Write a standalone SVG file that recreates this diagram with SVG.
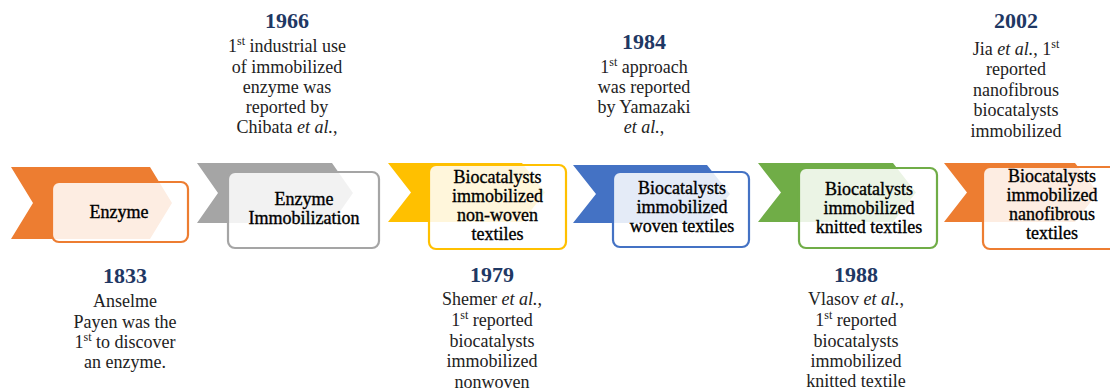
<svg xmlns="http://www.w3.org/2000/svg" width="1110" height="388" viewBox="0 0 1110 388">
<style>
  text { font-family: "Liberation Serif", "Times New Roman", serif; text-anchor: middle; }
  .yr { font-size: 22px; font-weight: bold; fill: #1F3864; }
  .an { font-size: 18px; fill: #222222; }
  .bx { font-size: 18px; fill: #000000; stroke: #000000; stroke-width: 0.35px; }
  .box { fill: #ffffff; fill-opacity: 0.86; stroke-width: 2.2; }
  .sup { font-size: 12px; }
  .it { font-style: italic; }
</style>
<rect width="1110" height="388" fill="#ffffff"/>

<g id="node-enzyme">
  <polygon points="11,167 150,167 172,203 150,239 11,239 33,203" fill="#ED7D31"/>
  <rect class="box" x="52" y="182" width="136" height="60" rx="7" stroke="#ED7D31"/>
  <text class="bx" x="119" y="218">Enzyme</text>
</g>

<g id="node-immobilization">
  <polygon points="197,163 332,163 353,193 332,223 197,223 218,193" fill="#A5A5A5"/>
  <rect class="box" x="228" y="172" width="151" height="76" rx="7" stroke="#A5A5A5"/>
  <text class="bx" x="304" y="205">Enzyme</text>
  <text class="bx" x="304" y="224">Immobilization</text>
</g>

<g id="node-nonwoven">
  <polygon points="388,163 522,163 545,192.5 522,222 388,222 411,192.5" fill="#FFC000"/>
  <rect class="box" x="429" y="165" width="137" height="84" rx="7" stroke="#FFC000"/>
  <text class="bx" x="497.5" y="183">Biocatalysts</text>
  <text class="bx" x="497.5" y="202">immobilized</text>
  <text class="bx" x="497.5" y="221">non-woven</text>
  <text class="bx" x="497.5" y="240">textiles</text>
</g>

<g id="node-woven">
  <polygon points="573,165 707,165 730,194 707,223 573,223 596,194" fill="#4472C4"/>
  <rect class="box" x="613" y="172" width="136" height="75" rx="7" stroke="#4472C4"/>
  <text class="bx" x="682" y="194">Biocatalysts</text>
  <text class="bx" x="682" y="213">immobilized</text>
  <text class="bx" x="682" y="232">woven textiles</text>
</g>

<g id="node-knitted">
  <polygon points="758,163 893,163 916,192.5 893,222 758,222 781,192.5" fill="#70AD47"/>
  <rect class="box" x="799" y="168" width="138" height="80" rx="7" stroke="#70AD47"/>
  <text class="bx" x="869" y="195">Biocatalysts</text>
  <text class="bx" x="869" y="214">immobilized</text>
  <text class="bx" x="869" y="233">knitted textiles</text>
</g>

<g id="node-nanofibrous">
  <polygon points="944,163 1075,163 1098,192.5 1075,222 944,222 967,192.5" fill="#ED7D31"/>
  <rect class="box" x="983" y="167" width="140" height="82" rx="7" stroke="#ED7D31"/>
  <text class="bx" x="1052" y="182">Biocatalysts</text>
  <text class="bx" x="1052" y="201">immobilized</text>
  <text class="bx" x="1052" y="220">nanofibrous</text>
  <text class="bx" x="1052" y="239">textiles</text>
</g>

<g id="note-1833">
  <text class="yr" x="125" y="283">1833</text>
  <text class="an" x="125" y="307">Anselme</text>
  <text class="an" x="125" y="328">Payen was the</text>
  <text class="an" x="125" y="348">1<tspan class="sup" dy="-7">st</tspan><tspan dy="7"> to discover</tspan></text>
  <text class="an" x="125" y="368">an enzyme.</text>
</g>

<g id="note-1966">
  <text class="yr" x="287" y="28">1966</text>
  <text class="an" x="287" y="52">1<tspan class="sup" dy="-7">st</tspan><tspan dy="7"> industrial use</tspan></text>
  <text class="an" x="287" y="73">of immobilized</text>
  <text class="an" x="287" y="93">enzyme was</text>
  <text class="an" x="287" y="113">reported by</text>
  <text class="an" x="287" y="133">Chibata <tspan class="it">et al.</tspan>,</text>
</g>

<g id="note-1979">
  <text class="yr" x="492" y="282">1979</text>
  <text class="an" x="492" y="305">Shemer <tspan class="it">et al.</tspan>,</text>
  <text class="an" x="492" y="326">1<tspan class="sup" dy="-7">st</tspan><tspan dy="7"> reported</tspan></text>
  <text class="an" x="492" y="347">biocatalysts</text>
  <text class="an" x="492" y="367">immobilized</text>
  <text class="an" x="492" y="388">nonwoven</text>
</g>

<g id="note-1984">
  <text class="yr" x="644" y="49">1984</text>
  <text class="an" x="644" y="73">1<tspan class="sup" dy="-7">st</tspan><tspan dy="7"> approach</tspan></text>
  <text class="an" x="644" y="93">was reported</text>
  <text class="an" x="644" y="113">by Yamazaki</text>
  <text class="an" x="644" y="133"><tspan class="it">et al.</tspan>,</text>
</g>

<g id="note-1988">
  <text class="yr" x="856" y="282">1988</text>
  <text class="an" x="856" y="305">Vlasov <tspan class="it">et al.</tspan>,</text>
  <text class="an" x="856" y="326">1<tspan class="sup" dy="-7">st</tspan><tspan dy="7"> reported</tspan></text>
  <text class="an" x="856" y="347">biocatalysts</text>
  <text class="an" x="856" y="367">immobilized</text>
  <text class="an" x="856" y="387">knitted textile</text>
</g>

<g id="note-2002">
  <text class="yr" x="1016" y="28">2002</text>
  <text class="an" x="1016" y="55">Jia <tspan class="it">et al.</tspan>, 1<tspan class="sup" dy="-7">st</tspan></text>
  <text class="an" x="1016" y="75">reported</text>
  <text class="an" x="1016" y="96">nanofibrous</text>
  <text class="an" x="1016" y="116">biocatalysts</text>
  <text class="an" x="1016" y="137">immobilized</text>
</g>
</svg>
